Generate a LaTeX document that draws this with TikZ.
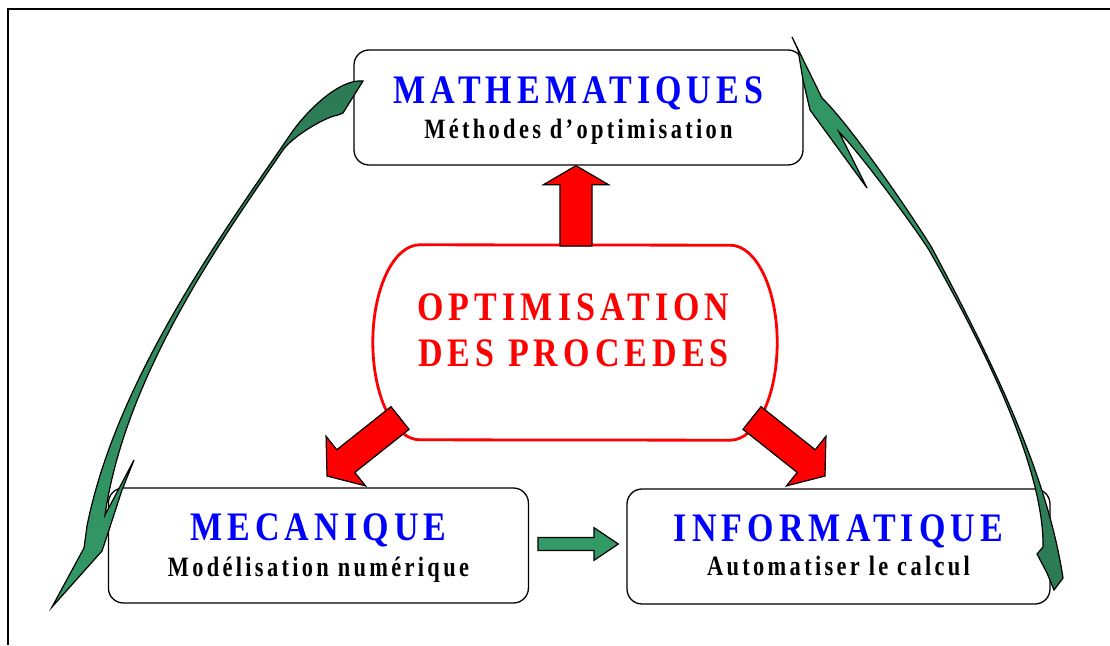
\documentclass[tikz,border=0pt]{standalone}
\usepackage{fontspec}
\setmainfont{Liberation Serif}
\newfontfamily\titlefont[FakeStretch=0.84, LetterSpace=12.5]{Liberation Serif}
\newfontfamily\subfont[FakeStretch=0.8, LetterSpace=11.9]{Liberation Serif}
\usetikzlibrary{calc}
\definecolor{seagreen}{RGB}{51,153,102}
\definecolor{darkgreen}{RGB}{44,122,84}
\tikzstyle{frame}=[line width=2pt]
\tikzstyle{box}=[draw, fill=white, rounded corners=15pt, line width=1.3pt, minimum height=115pt]
\tikzstyle{title}=[inner sep=0pt, text=blue, font=\titlefont\bfseries\fontsize{40.5}{44}\selectfont]
\tikzstyle{subtitle}=[inner sep=0pt, font=\subfont\bfseries\fontsize{28}{30}\selectfont]
\tikzstyle{proctitle}=[title, text=red]
\tikzstyle{procline}=[draw=red, fill=white, line width=2.8pt]
\tikzstyle{redarrow}=[draw=black, fill=red, line width=1.2pt]
\tikzstyle{greenblock}=[draw=black, fill=seagreen, line width=1.2pt]
\tikzstyle{greencurve}=[draw=black, line width=1.2pt, line join=miter]
% block arrow: [style]{tail}{tip}{half body}{half head}{head length}
\newcommand{\blockarrow}[6][redarrow]{%
  \coordinate (ba) at ($(#3)!#6!(#2)$);
  \draw[#1] ($(#2)!#4!90:(#3)$) -- ($(ba)!#4!90:(#3)$) -- ($(ba)!#5!90:(#3)$) -- (#3)
    -- ($(ba)!#5!-90:(#3)$) -- ($(ba)!#4!-90:(#3)$) -- ($(#2)!#4!-90:(#3)$) -- cycle;}

\begin{document}
\begin{tikzpicture}[x=1pt, y=-1pt]
    \useasboundingbox (0,0) rectangle (1110,645);
    \draw[frame] (1110,9) -- (8,9) -- (8,645);

    % boxes
    \node[box, minimum width=449pt] (math) at (578.5,107.5) {};
    \node[box, minimum width=420pt] (meca) at (318.4,545.5) {};
    \node[box, minimum width=423pt] (info) at (838.5,546.5) {};

    % central shape
    \node[minimum width=404pt, minimum height=195pt] (optim) at (575,342.5) {};
    \draw[procline] ([xshift=47pt]optim.north west)
        arc[start angle=90, end angle=270, x radius=47pt, y radius=97.5pt]
        -- ([xshift=-47pt]optim.south east)
        arc[start angle=-90, end angle=90, x radius=47pt, y radius=97.5pt] -- cycle;

    % red arrows
    \coordinate (upTail) at (576,246);
    \coordinate (upTip) at (upTail |- math.south);
    \coordinate (leftTail) at (400,418);
    \coordinate (leftTip) at (327,476);
    \coordinate (rightTail) at (752,418);
    \coordinate (rightTip) at (825,476);
    \blockarrow{upTail}{upTip}{16pt}{32.5pt}{19pt}
    \blockarrow{leftTail}{leftTip}{14.5pt}{31.7pt}{24pt}
    \blockarrow{rightTail}{rightTip}{14.5pt}{31.7pt}{24pt}

    % green arrow meca -> info
    \coordinate (midTail) at ($(meca.east)+(9,-1.5)$);
    \coordinate (midTip) at ($(info.west |- midTail)+(-8,0)$);
    \blockarrow[greenblock]{midTail}{midTip}{6.5pt}{16.3pt}{24.3pt}

    % curved green arrows
    \draw[greencurve, top color=darkgreen, bottom color=seagreen]
        (363,81) -- (343,113) -- (338,115)
        .. controls (323,117.7) and (291.5,137.7) .. (283,150)
        .. controls (230,228) and (126,370) .. (105,515)
        -- (134,460) -- (122,490) -- (108,533) -- (102,551) -- (52,607) -- (84,548)
        -- (87,526) .. controls (117,376) and (228,226) .. (290,135)
        .. controls (304,114) and (338,78.5) .. (363,81) -- cycle;
    \draw[greencurve, top color=seagreen, bottom color=darkgreen]
        (792,37) -- (822,98)
        .. controls (851,126) and (911,214) .. (932,248)
        .. controls (988,354) and (1046.5,469) .. (1063,578)
        -- (1054,590) -- (1047,573) -- (1037,554) -- (1043,547)
        .. controls (1044,470) and (988,354) .. (929,250)
        .. controls (913,225) and (860,153) .. (839,132)
        -- (867,188) -- (810,110) -- (803,80) -- (798,50) -- cycle;

    % texts
    \node[title, anchor=base] (mathT) at ([yshift=4.5pt]math.center) {MATHEMATIQUES};
    \node[subtitle, anchor=base] (mathS) at ([yshift=-30.5pt]math.center) {Méthodes d’optimisation};
    \node[title, anchor=base] (mecaT) at ([yshift=5.5pt]meca.center) {MECANIQUE};
    \node[subtitle, anchor=base] (mecaS) at ([yshift=-30.5pt]meca.center) {Modélisation numérique};
    \node[title, anchor=base] (infoT) at ([yshift=5pt]info.center) {INFORMATIQUE};
    \node[subtitle, anchor=base] (infoS) at ([yshift=-29pt]info.center) {Automatiser le calcul};
    \node[proctitle, anchor=base] (optimA) at ([xshift=-1.5pt, yshift=21.8pt]optim.center) {OPTIMISATION};
    \node[proctitle, anchor=base] (optimB) at ([xshift=-1.5pt, yshift=-23.5pt]optim.center) {DES PROCEDES};
\end{tikzpicture}
\end{document}
